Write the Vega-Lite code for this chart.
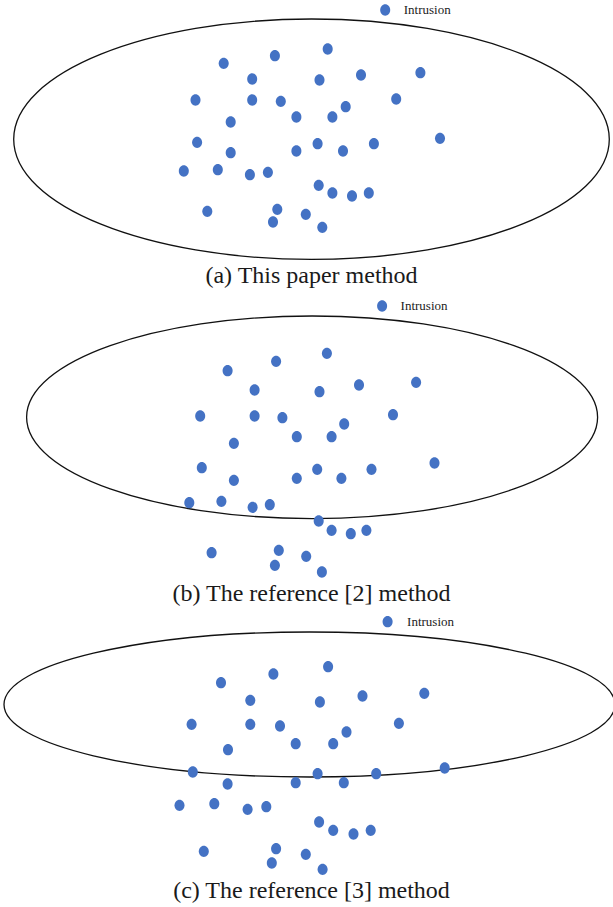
{
  "$schema": "https://vega.github.io/schema/vega-lite/v6.json",
  "padding": 0,
  "background": "white",
  "spacing": 8,
  "config": {"view": {"stroke": null}},
  "resolve": {"scale": {"color": "independent", "y": "independent"}, "legend": {"color": "independent"}},
  "datasets": {
    "ellipses": [
      {"panel": "a", "cx": 311.5, "cy": 139.2},
      {"panel": "b", "cx": 312.1, "cy": 121.3},
      {"panel": "c", "cx": 309.5, "cy": 90.5}
    ],
    "points": [
      {"panel": "a", "class": "Intrusion", "x": 223.7, "y": 63.3},
      {"panel": "a", "class": "Intrusion", "x": 274.9, "y": 55.7},
      {"panel": "a", "class": "Intrusion", "x": 327.7, "y": 49},
      {"panel": "a", "class": "Intrusion", "x": 252.2, "y": 79},
      {"panel": "a", "class": "Intrusion", "x": 319.5, "y": 80},
      {"panel": "a", "class": "Intrusion", "x": 361, "y": 75},
      {"panel": "a", "class": "Intrusion", "x": 420.4, "y": 72.7},
      {"panel": "a", "class": "Intrusion", "x": 195.5, "y": 100},
      {"panel": "a", "class": "Intrusion", "x": 252.2, "y": 100},
      {"panel": "a", "class": "Intrusion", "x": 280.8, "y": 101.3},
      {"panel": "a", "class": "Intrusion", "x": 345.7, "y": 106.7},
      {"panel": "a", "class": "Intrusion", "x": 396.2, "y": 99},
      {"panel": "a", "class": "Intrusion", "x": 296.4, "y": 117},
      {"panel": "a", "class": "Intrusion", "x": 332.4, "y": 117},
      {"panel": "a", "class": "Intrusion", "x": 230.7, "y": 122},
      {"panel": "a", "class": "Intrusion", "x": 197.1, "y": 142.3},
      {"panel": "a", "class": "Intrusion", "x": 230.7, "y": 152.7},
      {"panel": "a", "class": "Intrusion", "x": 296.4, "y": 151},
      {"panel": "a", "class": "Intrusion", "x": 317.6, "y": 143.7},
      {"panel": "a", "class": "Intrusion", "x": 343, "y": 151},
      {"panel": "a", "class": "Intrusion", "x": 373.9, "y": 143.7},
      {"panel": "a", "class": "Intrusion", "x": 440, "y": 138.3},
      {"panel": "a", "class": "Intrusion", "x": 183.8, "y": 171},
      {"panel": "a", "class": "Intrusion", "x": 217.8, "y": 169.7},
      {"panel": "a", "class": "Intrusion", "x": 249.9, "y": 174.7},
      {"panel": "a", "class": "Intrusion", "x": 267.9, "y": 172.3},
      {"panel": "a", "class": "Intrusion", "x": 318.7, "y": 185.3},
      {"panel": "a", "class": "Intrusion", "x": 332.4, "y": 193},
      {"panel": "a", "class": "Intrusion", "x": 352, "y": 196},
      {"panel": "a", "class": "Intrusion", "x": 368.8, "y": 193},
      {"panel": "a", "class": "Intrusion", "x": 207.3, "y": 211.3},
      {"panel": "a", "class": "Intrusion", "x": 277.3, "y": 209.3},
      {"panel": "a", "class": "Intrusion", "x": 305.8, "y": 214.3},
      {"panel": "a", "class": "Intrusion", "x": 273, "y": 222},
      {"panel": "a", "class": "Intrusion", "x": 322.3, "y": 227.3},
      {"panel": "b", "class": "Intrusion", "x": 227.6, "y": 74.7},
      {"panel": "b", "class": "Intrusion", "x": 276.1, "y": 65.3},
      {"panel": "b", "class": "Intrusion", "x": 326.9, "y": 57.3},
      {"panel": "b", "class": "Intrusion", "x": 254.6, "y": 94},
      {"panel": "b", "class": "Intrusion", "x": 319.5, "y": 95.7},
      {"panel": "b", "class": "Intrusion", "x": 359, "y": 89},
      {"panel": "b", "class": "Intrusion", "x": 416.1, "y": 86.3},
      {"panel": "b", "class": "Intrusion", "x": 200.2, "y": 120},
      {"panel": "b", "class": "Intrusion", "x": 254.6, "y": 120},
      {"panel": "b", "class": "Intrusion", "x": 282.4, "y": 121.7},
      {"panel": "b", "class": "Intrusion", "x": 344.2, "y": 128},
      {"panel": "b", "class": "Intrusion", "x": 393, "y": 118.7},
      {"panel": "b", "class": "Intrusion", "x": 296.8, "y": 140.7},
      {"panel": "b", "class": "Intrusion", "x": 331.6, "y": 140.7},
      {"panel": "b", "class": "Intrusion", "x": 233.9, "y": 147.3},
      {"panel": "b", "class": "Intrusion", "x": 201.8, "y": 171.7},
      {"panel": "b", "class": "Intrusion", "x": 233.9, "y": 184.3},
      {"panel": "b", "class": "Intrusion", "x": 296.8, "y": 182.3},
      {"panel": "b", "class": "Intrusion", "x": 317.2, "y": 173.3},
      {"panel": "b", "class": "Intrusion", "x": 341.4, "y": 182.3},
      {"panel": "b", "class": "Intrusion", "x": 371.5, "y": 173.3},
      {"panel": "b", "class": "Intrusion", "x": 434.5, "y": 167},
      {"panel": "b", "class": "Intrusion", "x": 189.3, "y": 206.7},
      {"panel": "b", "class": "Intrusion", "x": 221.4, "y": 205.3},
      {"panel": "b", "class": "Intrusion", "x": 252.6, "y": 211.3},
      {"panel": "b", "class": "Intrusion", "x": 269.8, "y": 208.7},
      {"panel": "b", "class": "Intrusion", "x": 318.7, "y": 225},
      {"panel": "b", "class": "Intrusion", "x": 331.6, "y": 234.3},
      {"panel": "b", "class": "Intrusion", "x": 350.8, "y": 237.7},
      {"panel": "b", "class": "Intrusion", "x": 366.4, "y": 234.3},
      {"panel": "b", "class": "Intrusion", "x": 211.6, "y": 256.7},
      {"panel": "b", "class": "Intrusion", "x": 278.8, "y": 254.3},
      {"panel": "b", "class": "Intrusion", "x": 306.2, "y": 260.3},
      {"panel": "b", "class": "Intrusion", "x": 274.9, "y": 269.3},
      {"panel": "b", "class": "Intrusion", "x": 321.9, "y": 276},
      {"panel": "c", "class": "Intrusion", "x": 221, "y": 68.7},
      {"panel": "c", "class": "Intrusion", "x": 273.4, "y": 60},
      {"panel": "c", "class": "Intrusion", "x": 328.1, "y": 52.7},
      {"panel": "c", "class": "Intrusion", "x": 250.3, "y": 86.3},
      {"panel": "c", "class": "Intrusion", "x": 319.9, "y": 88},
      {"panel": "c", "class": "Intrusion", "x": 362.5, "y": 82},
      {"panel": "c", "class": "Intrusion", "x": 424.3, "y": 79.3},
      {"panel": "c", "class": "Intrusion", "x": 191.6, "y": 110.3},
      {"panel": "c", "class": "Intrusion", "x": 250.3, "y": 110.3},
      {"panel": "c", "class": "Intrusion", "x": 280, "y": 112},
      {"panel": "c", "class": "Intrusion", "x": 346.5, "y": 118},
      {"panel": "c", "class": "Intrusion", "x": 398.9, "y": 109.3},
      {"panel": "c", "class": "Intrusion", "x": 295.7, "y": 129.7},
      {"panel": "c", "class": "Intrusion", "x": 333.2, "y": 129.7},
      {"panel": "c", "class": "Intrusion", "x": 228, "y": 135.7},
      {"panel": "c", "class": "Intrusion", "x": 192.8, "y": 158},
      {"panel": "c", "class": "Intrusion", "x": 227.6, "y": 170},
      {"panel": "c", "class": "Intrusion", "x": 295.7, "y": 168.7},
      {"panel": "c", "class": "Intrusion", "x": 317.6, "y": 159.7},
      {"panel": "c", "class": "Intrusion", "x": 343.8, "y": 168.7},
      {"panel": "c", "class": "Intrusion", "x": 376.2, "y": 159.7},
      {"panel": "c", "class": "Intrusion", "x": 444.7, "y": 154},
      {"panel": "c", "class": "Intrusion", "x": 179.5, "y": 191.3},
      {"panel": "c", "class": "Intrusion", "x": 214.3, "y": 189.7},
      {"panel": "c", "class": "Intrusion", "x": 247.6, "y": 195.3},
      {"panel": "c", "class": "Intrusion", "x": 266.3, "y": 192.7},
      {"panel": "c", "class": "Intrusion", "x": 319.1, "y": 208},
      {"panel": "c", "class": "Intrusion", "x": 333.2, "y": 216.3},
      {"panel": "c", "class": "Intrusion", "x": 353.5, "y": 220},
      {"panel": "c", "class": "Intrusion", "x": 370.7, "y": 216.3},
      {"panel": "c", "class": "Intrusion", "x": 203.8, "y": 237.3},
      {"panel": "c", "class": "Intrusion", "x": 276.1, "y": 234.7},
      {"panel": "c", "class": "Intrusion", "x": 305.8, "y": 240.3},
      {"panel": "c", "class": "Intrusion", "x": 271.8, "y": 249},
      {"panel": "c", "class": "Intrusion", "x": 322.6, "y": 255.3}
    ]
  },
  "vconcat": [
    {
      "width": 613,
      "height": 261,
      "title": {"text": "(a) This paper method", "orient": "bottom", "anchor": "middle", "dx": 5, "offset": 2, "font": "Liberation Serif", "fontSize": 24, "fontWeight": "normal", "color": "#1a1a1a"},
      "layer": [
        {
          "data": {"name": "ellipses"},
          "transform": [{"filter": "datum.panel === 'a'"}],
          "mark": {"type": "point", "shape": "M -1 0 C -1 -0.2229 -0.5523 -0.4036 0 -0.4036 C 0.5523 -0.4036 1 -0.2229 1 0 C 1 0.2229 0.5523 0.4036 0 0.4036 C -0.5523 0.4036 -1 0.2229 -1 0 Z", "size": 354739, "filled": false, "stroke": "#111111", "strokeWidth": 1.3, "opacity": 1},
          "encoding": {
            "x": {"field": "cx", "type": "quantitative", "scale": {"domain": [0, 613], "nice": false, "zero": false}, "axis": null},
            "y": {"field": "cy", "type": "quantitative", "scale": {"domain": [0, 261], "nice": false, "zero": false, "reverse": true}, "axis": null}
          }
        },
        {
          "data": {"name": "points"},
          "transform": [{"filter": "datum.panel === 'a'"}],
          "mark": {"type": "point", "shape": "M -0.885 0 C -0.885 -0.5523 -0.4888 -1 0 -1 C 0.4888 -1 0.885 -0.5523 0.885 0 C 0.885 0.5523 0.4888 1 0 1 C -0.4888 1 -0.885 0.5523 -0.885 0 Z", "size": 128, "filled": true, "opacity": 1, "strokeWidth": 0},
          "encoding": {
            "x": {"field": "x", "type": "quantitative", "scale": {"domain": [0, 613], "nice": false, "zero": false}, "axis": null},
            "y": {"field": "y", "type": "quantitative", "scale": {"domain": [0, 261], "nice": false, "zero": false, "reverse": true}, "axis": null},
            "color": {"field": "class", "type": "nominal", "scale": {"range": ["#4472C4"]}, "legend": {"title": null, "orient": "none", "legendX": 378.7, "legendY": 3.5, "padding": 0, "symbolType": "M -0.885 0 C -0.885 -0.5523 -0.4888 -1 0 -1 C 0.4888 -1 0.885 -0.5523 0.885 0 C 0.885 0.5523 0.4888 1 0 1 C -0.4888 1 -0.885 0.5523 -0.885 0 Z", "symbolSize": 128, "symbolStrokeWidth": 0, "symbolOpacity": 1, "labelOffset": 12, "labelFont": "Liberation Serif", "labelFontSize": 13, "labelColor": "#222222"}}
          }
        }
      ]
    },
    {
      "width": 613,
      "height": 284,
      "title": {"text": "(b) The reference [2] method", "orient": "bottom", "anchor": "middle", "dx": 5, "offset": 2, "font": "Liberation Serif", "fontSize": 24, "fontWeight": "normal", "color": "#1a1a1a"},
      "layer": [
        {
          "data": {"name": "ellipses"},
          "transform": [{"filter": "datum.panel === 'b'"}],
          "mark": {"type": "point", "shape": "M -1 0 C -1 -0.196 -0.5523 -0.3548 0 -0.3548 C 0.5523 -0.3548 1 -0.196 1 0 C 1 0.196 0.5523 0.3548 0 0.3548 C -0.5523 0.3548 -1 0.196 -1 0 Z", "size": 326041, "filled": false, "stroke": "#111111", "strokeWidth": 1.3, "opacity": 1},
          "encoding": {
            "x": {"field": "cx", "type": "quantitative", "scale": {"domain": [0, 613], "nice": false, "zero": false}, "axis": null},
            "y": {"field": "cy", "type": "quantitative", "scale": {"domain": [0, 284], "nice": false, "zero": false, "reverse": true}, "axis": null}
          }
        },
        {
          "data": {"name": "points"},
          "transform": [{"filter": "datum.panel === 'b'"}],
          "mark": {"type": "point", "shape": "M -0.885 0 C -0.885 -0.5523 -0.4888 -1 0 -1 C 0.4888 -1 0.885 -0.5523 0.885 0 C 0.885 0.5523 0.4888 1 0 1 C -0.4888 1 -0.885 0.5523 -0.885 0 Z", "size": 128, "filled": true, "opacity": 1, "strokeWidth": 0},
          "encoding": {
            "x": {"field": "x", "type": "quantitative", "scale": {"domain": [0, 613], "nice": false, "zero": false}, "axis": null},
            "y": {"field": "y", "type": "quantitative", "scale": {"domain": [0, 284], "nice": false, "zero": false, "reverse": true}, "axis": null},
            "color": {"field": "class", "type": "nominal", "scale": {"range": ["#4472C4"]}, "legend": {"title": null, "orient": "none", "legendX": 375.6, "legendY": 3.5, "padding": 0, "symbolType": "M -0.885 0 C -0.885 -0.5523 -0.4888 -1 0 -1 C 0.4888 -1 0.885 -0.5523 0.885 0 C 0.885 0.5523 0.4888 1 0 1 C -0.4888 1 -0.885 0.5523 -0.885 0 Z", "symbolSize": 128, "symbolStrokeWidth": 0, "symbolOpacity": 1, "labelOffset": 12, "labelFont": "Liberation Serif", "labelFontSize": 13, "labelColor": "#222222"}}
          }
        }
      ]
    },
    {
      "width": 613,
      "height": 263,
      "title": {"text": "(c) The reference [3] method", "orient": "bottom", "anchor": "middle", "dx": 5, "offset": 2, "font": "Liberation Serif", "fontSize": 24, "fontWeight": "normal", "color": "#1a1a1a"},
      "layer": [
        {
          "data": {"name": "ellipses"},
          "transform": [{"filter": "datum.panel === 'c'"}],
          "mark": {"type": "point", "shape": "M -1 0 C -1 -0.1311 -0.5523 -0.2373 0 -0.2373 C 0.5523 -0.2373 1 -0.1311 1 0 C 1 0.1311 0.5523 0.2373 0 0.2373 C -0.5523 0.2373 -1 0.1311 -1 0 Z", "size": 373321, "filled": false, "stroke": "#111111", "strokeWidth": 1.3, "opacity": 1},
          "encoding": {
            "x": {"field": "cx", "type": "quantitative", "scale": {"domain": [0, 613], "nice": false, "zero": false}, "axis": null},
            "y": {"field": "cy", "type": "quantitative", "scale": {"domain": [0, 263], "nice": false, "zero": false, "reverse": true}, "axis": null}
          }
        },
        {
          "data": {"name": "points"},
          "transform": [{"filter": "datum.panel === 'c'"}],
          "mark": {"type": "point", "shape": "M -0.885 0 C -0.885 -0.5523 -0.4888 -1 0 -1 C 0.4888 -1 0.885 -0.5523 0.885 0 C 0.885 0.5523 0.4888 1 0 1 C -0.4888 1 -0.885 0.5523 -0.885 0 Z", "size": 128, "filled": true, "opacity": 1, "strokeWidth": 0},
          "encoding": {
            "x": {"field": "x", "type": "quantitative", "scale": {"domain": [0, 613], "nice": false, "zero": false}, "axis": null},
            "y": {"field": "y", "type": "quantitative", "scale": {"domain": [0, 263], "nice": false, "zero": false, "reverse": true}, "axis": null},
            "color": {"field": "class", "type": "nominal", "scale": {"range": ["#4472C4"]}, "legend": {"title": null, "orient": "none", "legendX": 381.1, "legendY": 1.2, "padding": 0, "symbolType": "M -0.885 0 C -0.885 -0.5523 -0.4888 -1 0 -1 C 0.4888 -1 0.885 -0.5523 0.885 0 C 0.885 0.5523 0.4888 1 0 1 C -0.4888 1 -0.885 0.5523 -0.885 0 Z", "symbolSize": 128, "symbolStrokeWidth": 0, "symbolOpacity": 1, "labelOffset": 13, "labelFont": "Liberation Serif", "labelFontSize": 13, "labelColor": "#222222"}}
          }
        }
      ]
    }
  ]
}
